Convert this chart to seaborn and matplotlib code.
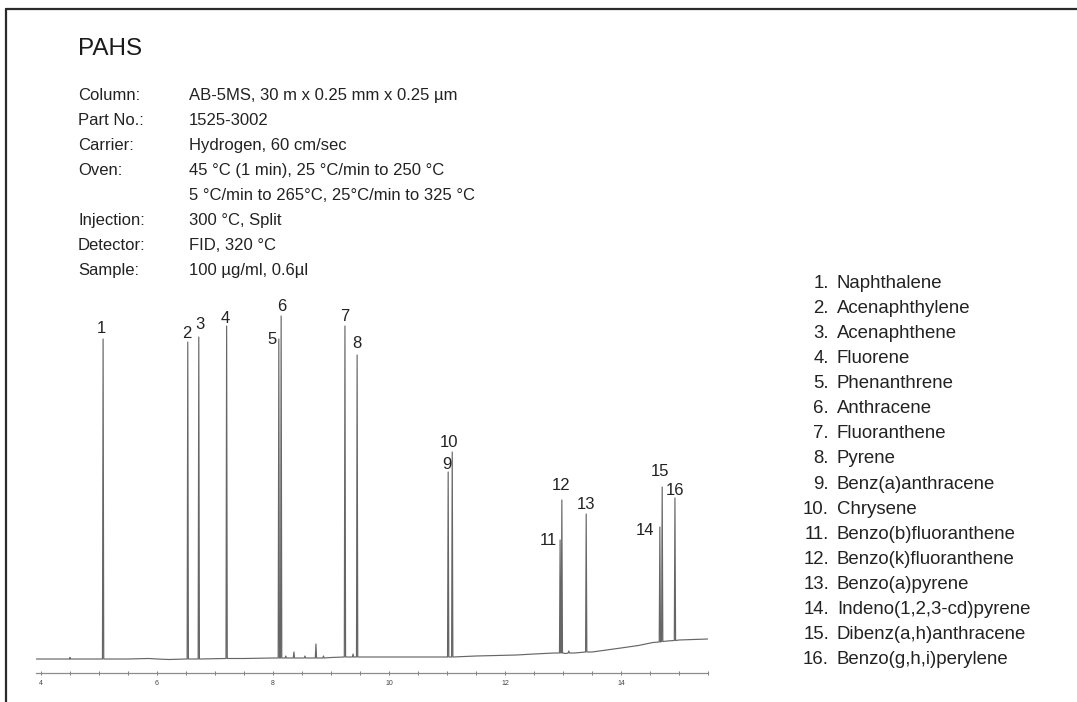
import numpy as np
import pandas as pd
import matplotlib
matplotlib.use("Agg")
import matplotlib.pyplot as plt
from matplotlib.lines import Line2D
import seaborn as sns

# ---------------- data ----------------
peak_labels = [str(i) for i in range(1, 17)]
peak_times = [5.07, 6.53, 6.72, 7.20, 8.10, 8.14, 9.24, 9.45,
              11.02, 11.09, 12.95, 12.98, 13.40, 14.67, 14.71, 14.93]
peak_apex = [320, 317, 322, 333, 320, 343, 333, 304,
             187, 207, 119, 159, 145, 132, 172, 161]
peak_base = [0, 0, 0, 0.5, 1, 1, 2, 2,
             2, 2, 6, 6, 7, 17, 17.5, 18.5]

minor_times = [4.50, 8.22, 8.36, 8.55, 8.74, 8.87, 9.38, 13.10]
minor_apex = [1.5, 3, 7, 3, 15, 3, 5, 8]
minor_base = [0, 1, 1, 1, 1, 1, 2, 6]

baseline_t = [3.92, 4.5, 5.5, 5.85, 6.0, 6.2, 6.5, 7.5, 8.0, 8.5, 9.0, 9.5,
              10.0, 11.0, 11.5, 12.2, 12.5, 12.85, 13.05, 13.2, 13.5, 14.0,
              14.3, 14.55, 14.8, 15.0, 15.5]
baseline_s = [0, 0, 0, 0.5, 0, -0.5, 0, 0.5, 1, 1, 1.5, 2,
              2, 2, 3, 4, 5, 6, 5.5, 6, 7, 11,
              13.5, 16.5, 18, 19, 20]

xtick_values = [4, 6, 8, 10, 12, 14]
xtick_labels = ["4", "6", "8", "10", "12", "14"]

compound_names = ["Naphthalene", "Acenaphthylene", "Acenaphthene", "Fluorene",
                  "Phenanthrene", "Anthracene", "Fluoranthene", "Pyrene",
                  "Benz(a)anthracene", "Chrysene", "Benzo(b)fluoranthene",
                  "Benzo(k)fluoranthene", "Benzo(a)pyrene",
                  "Indeno(1,2,3-cd)pyrene", "Dibenz(a,h)anthracene",
                  "Benzo(g,h,i)perylene"]

title_text = "PAHS"
header_keys = ["Column:", "Part No.:", "Carrier:", "Oven:", "",
               "Injection:", "Detector:", "Sample:"]
header_values = ["AB-5MS, 30 m x 0.25 mm x 0.25 µm", "1525-3002",
                 "Hydrogen, 60 cm/sec",
                 "45 °C (1 min), 25 °C/min to 250 °C",
                 "5 °C/min to 265°C, 25°C/min to 325 °C",
                 "300 °C, Split", "FID, 320 °C", "100 µg/ml, 0.6µl"]

# label offsets (pixels, relative to peak apex) -- layout only
label_offsets = [(-2, 6), (-1, 4), (1, 8), (-1, 3), (-7, -5), (1, 5), (0, 5),
                 (0, 7), (-1, 3), (-3, 5), (-12, -5), (-1, 10), (0, 5),
                 (-15, -8), (-2, 11), (0, 3)]

# ---------------- build trace from read points ----------------
half_w = 0.011
rows = list(zip(baseline_t, baseline_s))
for t, a, b in zip(peak_times + minor_times, peak_apex + minor_apex,
                   peak_base + minor_base):
    rows += [(t - half_w, b), (t, a), (t + half_w, b)]
df = pd.DataFrame(rows, columns=["time", "signal"]).sort_values("time")
df = df.reset_index(drop=True)

# ---------------- figure ----------------
sns.set_theme(style="white")
plt.rcParams["font.family"] = ["Liberation Sans", "DejaVu Sans"]

W, H = 1077, 702
fig = plt.figure(figsize=(W / 100, H / 100), dpi=100)


def fx(px):
    return px / W


def fy(py):
    return 1 - py / H


ax = fig.add_axes([fx(36.4), (H - 672.5) / H, (708 - 36.4) / W, (672.5 - 290) / H])
ax.set_facecolor("none")
sns.lineplot(data=df, x="time", y="signal", ax=ax, color="#666666",
             linewidth=0.85, estimator=None, sort=False)
ax.set_xlim(3.92, 15.5)
ax.set_ylim(-13.5, 369)
for s in ["top", "left", "right"]:
    ax.spines[s].set_visible(False)
ax.spines["bottom"].set_color("#8c8c8c")
ax.spines["bottom"].set_linewidth(0.9)
ax.set_yticks([])
ax.set_xticks(xtick_values)
ax.set_xticklabels(xtick_labels)
ax.set_xticks(np.arange(4, 15.51, 0.5), minor=True)
ax.tick_params(axis="x", which="both", bottom=True, direction="inout",
               length=3, width=0.7, color="#7a7a7a", labelsize=5,
               labelcolor="#444444", pad=4)
ax.set_xlabel("")
ax.set_ylabel("")

for lbl, t, a, (dx, dy) in zip(peak_labels, peak_times, peak_apex, label_offsets):
    ax.annotate(lbl, xy=(t, a), xytext=(dx, dy), textcoords="offset pixels",
                ha="center", va="baseline", fontsize=12, color="#222222")

# header
fig.text(fx(78), fy(55), title_text, fontsize=17.5, ha="left", va="baseline",
         color="#1a1a1a")
for i, (k, v) in enumerate(zip(header_keys, header_values)):
    yb = fy(100 + 25 * i)
    fig.text(fx(78), yb, k, fontsize=12, ha="left", va="baseline", color="#222222")
    fig.text(fx(189), yb, v, fontsize=12, ha="left", va="baseline", color="#222222")

# compound list
for i, name in enumerate(compound_names):
    yb = fy(288 + 25.07 * i)
    fig.text(fx(829), yb, f"{i + 1}.", fontsize=13.4, ha="right", va="baseline",
             color="#222222")
    fig.text(fx(837), yb, name, fontsize=13.4, ha="left", va="baseline",
             color="#222222")

# frame lines (left and top)
fig.add_artist(Line2D([fx(5.5), fx(5.5)], [fy(8.5), 0], color="#2a2a2a", lw=1.6))
fig.add_artist(Line2D([fx(5.5), 1], [fy(8.5), fy(8.5)], color="#2a2a2a", lw=1.6))

fig.savefig("out.png", dpi=100)
